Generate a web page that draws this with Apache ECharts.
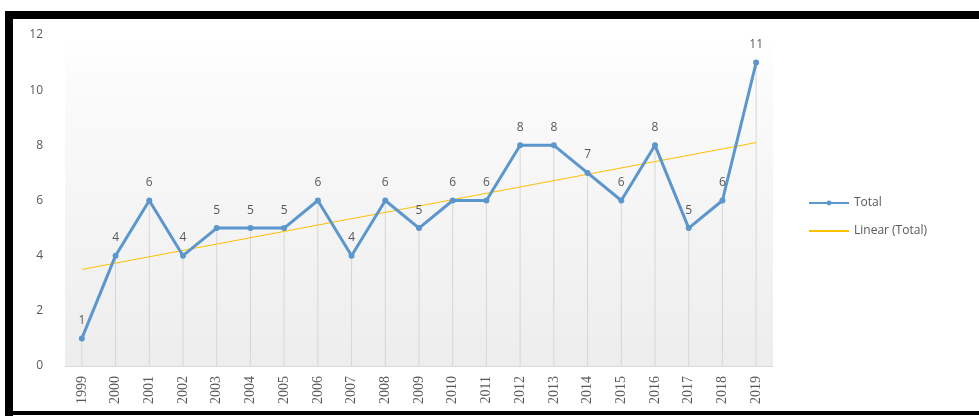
<!DOCTYPE html>
<html>
<head>
<meta charset="utf-8">
<script src="https://cdn.jsdelivr.net/npm/echarts@6/dist/echarts.min.js"></script>
<style>
html,body{margin:0;padding:0;background:#fff;}
#wrap{position:relative;width:979px;height:416px;overflow:hidden;}
#chart{position:absolute;left:0;top:0;width:979px;height:416px;}
.b{position:absolute;background:#000;}
</style>
</head>
<body>
<div id="wrap">
<div id="chart"></div>
<div class="b" style="left:5px;top:11px;width:974px;height:8px;"></div>
<div class="b" style="left:5px;top:11px;width:8px;height:405px;"></div>
<div class="b" style="left:5px;top:411px;width:974px;height:4px;"></div>
</div>
<script>
var categories = ['1999','2000','2001','2002','2003','2004','2005','2006','2007','2008','2009','2010','2011','2012','2013','2014','2015','2016','2017','2018','2019'];
var totals = [1,4,6,4,5,5,5,6,4,6,5,6,6,8,8,7,6,8,5,6,11];
var trendStart = 3.5;
var trendEnd = 8.1;
var yTicks = {min:0, max:12, interval:2};

var trendData = categories.map(function(c,i){
  if(i===0) return trendStart;
  if(i===categories.length-1) return trendEnd;
  return null;
});

var chart = echarts.init(document.getElementById('chart'), null, {renderer:'canvas'});
var txt = '#595959';
chart.setOption({
  animation:false,
  textStyle:{fontFamily:'Open Sans'},
  grid:{left:65,right:206,top:35,bottom:50,show:true,borderWidth:0,
    backgroundColor:{type:'linear',x:0,y:0,x2:0,y2:1,colorStops:[{offset:0,color:'#ffffff'},{offset:0.15,color:'#fbfbfb'},{offset:1,color:'#ededed'}]}},
  legend:{orient:'vertical',left:803,top:192,itemWidth:40,itemHeight:6,itemGap:16,
    data:[{name:'Total'},{name:'Linear (Total)',itemStyle:{opacity:0}}],
    textStyle:{color:txt,fontSize:12,fontFamily:'Open Sans'}},
  xAxis:{type:'category',data:categories,boundaryGap:true,
    axisLine:{lineStyle:{color:'#d9d9d9'}},axisTick:{show:false},
    axisLabel:{rotate:90,color:txt,fontSize:14,fontFamily:'Liberation Sans Narrow',margin:10},
    splitLine:{show:false}},
  yAxis:{type:'value',min:yTicks.min,max:yTicks.max,interval:yTicks.interval,
    axisLine:{show:false},axisTick:{show:false},splitLine:{show:false},
    axisLabel:{color:txt,fontSize:12,fontFamily:'Open Sans',margin:22}},
  series:[
    {name:'drop',type:'bar',data:totals,barWidth:1,silent:true,
      itemStyle:{color:'#d6d6d6'},z:1},
    {name:'Linear (Total)',type:'line',data:trendData,connectNulls:true,
      symbol:'none',lineStyle:{color:'#ffc000',width:1},itemStyle:{color:'#ffc000'},z:2},
    {name:'Total',type:'line',data:totals,symbol:'circle',symbolSize:6,
      lineStyle:{color:'#5b96cd',width:3},itemStyle:{color:'#5b96cd'},
      label:{show:true,position:'top',distance:9,color:txt,fontSize:12,fontFamily:'Open Sans'},z:3}
  ]
});
</script>
</body>
</html>
